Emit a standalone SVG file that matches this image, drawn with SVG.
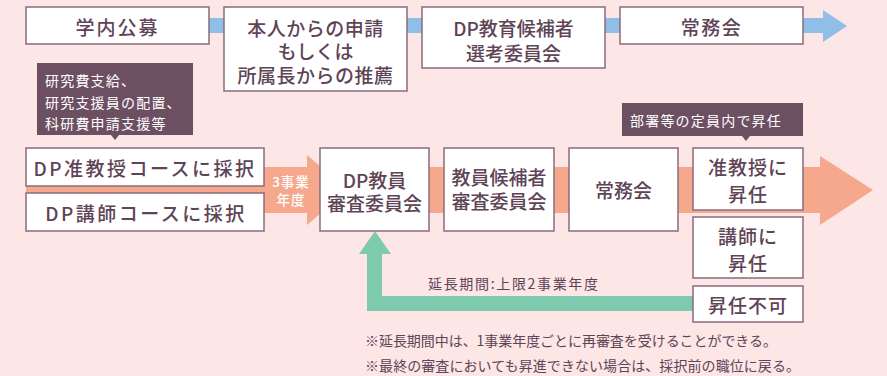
<svg xmlns="http://www.w3.org/2000/svg" width="887" height="376" viewBox="0 0 887 376">
<style>
text{font-family:"Noto Sans CJK JP","Noto Sans",sans-serif;fill:#5e4456;dominant-baseline:central;text-anchor:middle}
.box{fill:#fff;stroke:#8a6b7d;stroke-width:1.5}
.b{font-size:19px;font-weight:500}
.c{font-size:14px;fill:#fff;text-anchor:start;letter-spacing:1.2px}
.w{font-size:13.5px;fill:#fff;font-weight:500}
.n{font-size:14px;text-anchor:start}
.call{fill:#6d4f62}
</style>
<rect width="887" height="376" fill="#fde6e6"/>
<g id="connectors">
<rect x="209" y="18" width="616" height="15" fill="#8fbfe6"/>
<polygon points="823,10 847,26 823,42" fill="#8fbfe6"/>
<rect x="26" y="167" width="796" height="46" fill="#f6a88d"/>
<polygon points="307,155 307,225 348,190" fill="#f6a88d"/>
<polygon points="820,156 873,190 820,225" fill="#f6a88d"/>
<polygon points="375,231 391,254 382,254 382,296 693,296 693,311 367,311 367,254 359,254" fill="#7ecaae"/>
</g>
<g id="n1"><rect class="box" x="26" y="7" width="183" height="37"/><text class="b" x="117.5" y="26" letter-spacing="2">学内公募</text></g>
<g id="n2"><rect class="box" x="224" y="7" width="183" height="84"/><text class="b" x="315.5" y="27" letter-spacing="0.5">本人からの申請</text><text class="b" x="315.5" y="50">もしくは</text><text class="b" x="315.5" y="74" letter-spacing="0.5">所属長からの推薦</text></g>
<g id="n3"><rect class="box" x="422" y="7" width="183" height="61"/><text class="b" x="513.5" y="27">DP教育候補者</text><text class="b" x="513.5" y="52">選考委員会</text></g>
<g id="n4"><rect class="box" x="620" y="7" width="183" height="37"/><text class="b" x="711.5" y="26" letter-spacing="1.5">常務会</text></g>
<g id="callout1"><rect class="call" x="37" y="63" width="156" height="72"/><polygon class="call" points="111,135 119,135 115,140"/><text class="c" x="45" y="80">研究費支給、</text><text class="c" x="45" y="102">研究支援員の配置、</text><text class="c" x="45" y="123">科研費申請支援等</text></g>
<g id="callout2"><rect class="call" x="622" y="103" width="181" height="33"/><polygon class="call" points="742,136 750,136 746,141"/><text class="c" x="630" y="120">部署等の定員内で昇任</text></g>
<g id="n5"><rect class="box" x="26" y="148" width="238" height="38"/><text class="b" x="145" y="167" letter-spacing="2.5">DP准教授コースに採択</text></g>
<g id="n6"><rect class="box" x="26" y="193" width="238" height="38"/><text class="b" x="146" y="212" letter-spacing="2.5">DP講師コースに採択</text></g>
<g id="label1"><text class="w" x="291" y="181" letter-spacing="1">3事業</text><text class="w" x="291" y="199" letter-spacing="1">年度</text></g>
<g id="n7"><rect class="box" x="320" y="148" width="109" height="83"/><text class="b" x="374.5" y="179">DP教員</text><text class="b" x="374.5" y="202">審査委員会</text></g>
<g id="n8"><rect class="box" x="444" y="148" width="110" height="83"/><text class="b" x="499" y="176">教員候補者</text><text class="b" x="499" y="200">審査委員会</text></g>
<g id="n9"><rect class="box" x="569" y="148" width="109" height="83"/><text class="b" x="623.5" y="189">常務会</text></g>
<g id="n10"><rect class="box" x="693" y="148" width="110" height="62"/><text class="b" x="748" y="166" letter-spacing="1">准教授に</text><text class="b" x="748" y="193" letter-spacing="1">昇任</text></g>
<g id="n11"><rect class="box" x="693" y="217" width="110" height="61"/><text class="b" x="748" y="235" letter-spacing="1">講師に</text><text class="b" x="748" y="262" letter-spacing="1">昇任</text></g>
<g id="n12"><rect class="box" x="693" y="286" width="110" height="36"/><text class="b" x="748" y="304" letter-spacing="1">昇任不可</text></g>
<g id="label2"><text class="n" x="428" y="283" textLength="170" lengthAdjust="spacing">延長期間:上限2事業年度</text></g>
<g id="notes"><text class="n" x="365" y="340" textLength="412" lengthAdjust="spacing">※延長期間中は、1事業年度ごとに再審査を受けることができる。</text><text class="n" x="365" y="365" textLength="435" lengthAdjust="spacing">※最終の審査においても昇進できない場合は、採択前の職位に戻る。</text></g>
</svg>
